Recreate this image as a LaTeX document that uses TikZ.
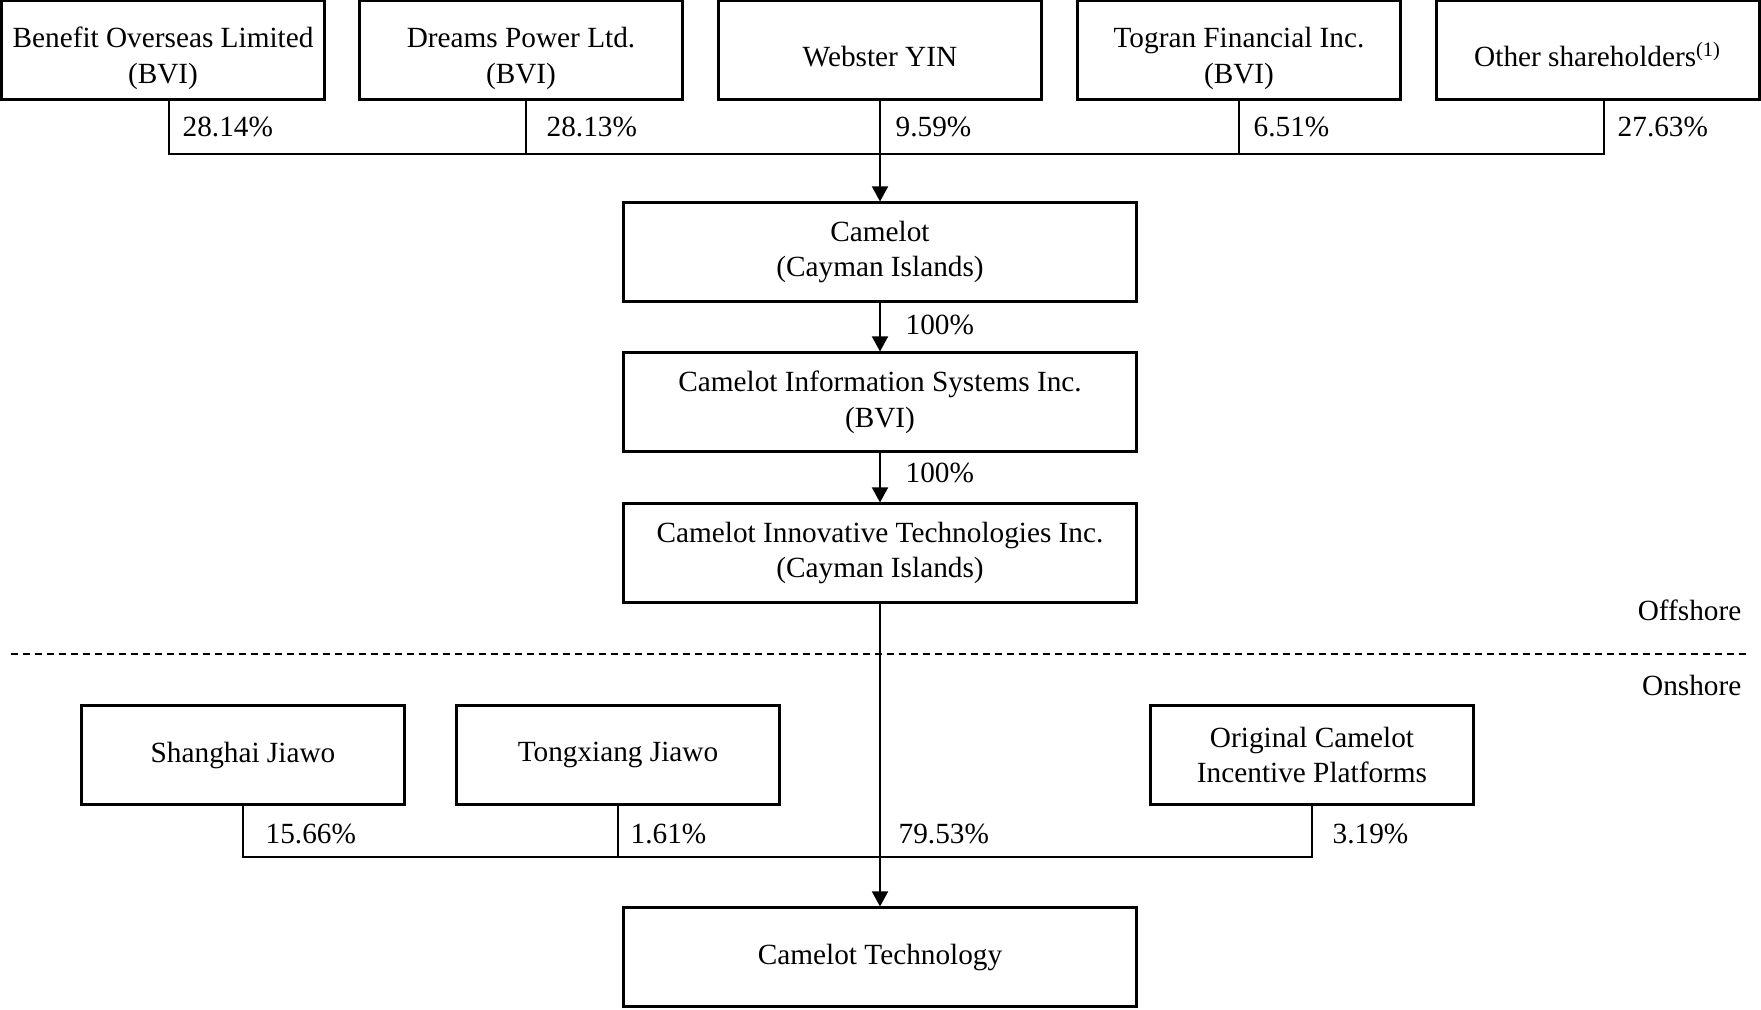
\documentclass[tikz,border=0pt]{standalone}
\usepackage{fontspec}
\setmainfont{Liberation Serif}
\usetikzlibrary{arrows.meta}

\begin{document}
\begin{tikzpicture}[font=\fontsize{8.33}{10.2}\selectfont,
  box/.style={draw,line width=0.6pt,minimum width=3.23cm,minimum height=0.99cm,align=center,inner sep=0pt},
  topbox/.style={box,text height=21pt},
  topone/.style={box,text height=9.5pt},
  bigbox/.style={box,minimum width=5.13cm},
  pct/.style={anchor=west,inner sep=0pt},
  lnk/.style={line width=0.45pt},
  arr/.style={lnk,-{Triangle[width=0.16cm,length=0.15cm]}}]
                        \useasboundingbox(0,0)rectangle(17.61,-10.09);
                        % shareholders
                        \node[topbox](B1)at(1.63,-0.50){Benefit Overseas Limited\\(BVI)};
                        \node[topbox](B2)at(5.21,-0.50){Dreams Power Ltd.\\(BVI)};
                        \node[topone](B3)at(8.80,-0.50){Webster YIN};
                        \node[topbox](B4)at(12.39,-0.50){Togran Financial Inc.\\(BVI)};
                        \node[topone](B5)at(15.98,-0.50){Other shareholders\textsuperscript{(1)}};
                        % group
                        \node[bigbox](C1)at(8.80,-2.52){Camelot\\(Cayman Islands)};
                        \node[bigbox](C2)at(8.80,-4.02){Camelot Information Systems Inc.\\(BVI)};
                        \node[bigbox](C3)at(8.80,-5.53){Camelot Innovative Technologies Inc.\\(Cayman Islands)};
                        \node[box](S1)at(2.43,-7.55){Shanghai Jiawo};
                        \node[box](S2)at(6.18,-7.55){Tongxiang Jiawo};
                        \node[box](S3)at(13.12,-7.55){Original Camelot\\Incentive Platforms};
                        \node[bigbox](T)at(8.80,-9.57){Camelot Technology};
                        \coordinate(bus1)at(8.80,-1.54);
                        \coordinate(bus2)at(8.80,-8.57);
                        % top
                        \draw[lnk]([xshift=0.06cm]B1.south)--([xshift=0.06cm]B1.south|-bus1)
                          --([xshift=0.06cm]B5.south|-bus1)--([xshift=0.06cm]B5.south);
                        \draw[lnk]([xshift=0.05cm]B2.south)--([xshift=0.05cm]B2.south|-bus1);
                        \draw[lnk](B4.south)--(B4.south|-bus1);
                        \draw[arr](B3.south)--(C1.north);
                        \node[pct](p1)at(1.82,-1.27){28.14\%};
                        \node[pct](p2)at(5.46,-1.27){28.13\%};
                        \node[pct](p3)at(8.95,-1.27){9.59\%};
                        \node[pct](p4)at(12.53,-1.27){6.51\%};
                        \node[pct](p5)at(16.17,-1.27){27.63\%};
                        \draw[arr](C1.south)--(C2.north);
                        \draw[arr](C2.south)--(C3.north);
                        \node[pct](p6)at(9.05,-3.25){100\%};
                        \node[pct](p7)at(9.05,-4.73){100\%};
                        % offshore / onshore
                        \coordinate(d1)at(0.11,-6.54);
                        \coordinate(d2)at(17.49,-6.54);
                        \draw[lnk,dash pattern=on 0.07cm off 0.05cm](d1)--(d2);
                        \node[anchor=east,inner sep=0pt](off)at(17.42,-6.10){Offshore};
                        \node[anchor=east,inner sep=0pt](on)at(17.42,-6.85){Onshore};
                        % bottom
                        \draw[lnk](S1.south)--(S1.south|-bus2)--(S3.south|-bus2)--(S3.south);
                        \draw[lnk](S2.south)--(S2.south|-bus2);
                        \draw[arr](C3.south)--(T.north);
                        \node[pct](p8)at(2.65,-8.34){15.66\%};
                        \node[pct](p9)at(6.30,-8.34){1.61\%};
                        \node[pct](p10)at(8.98,-8.34){79.53\%};
                        \node[pct](p11)at(13.32,-8.34){3.19\%};
                    \end{tikzpicture}
\end{document}
